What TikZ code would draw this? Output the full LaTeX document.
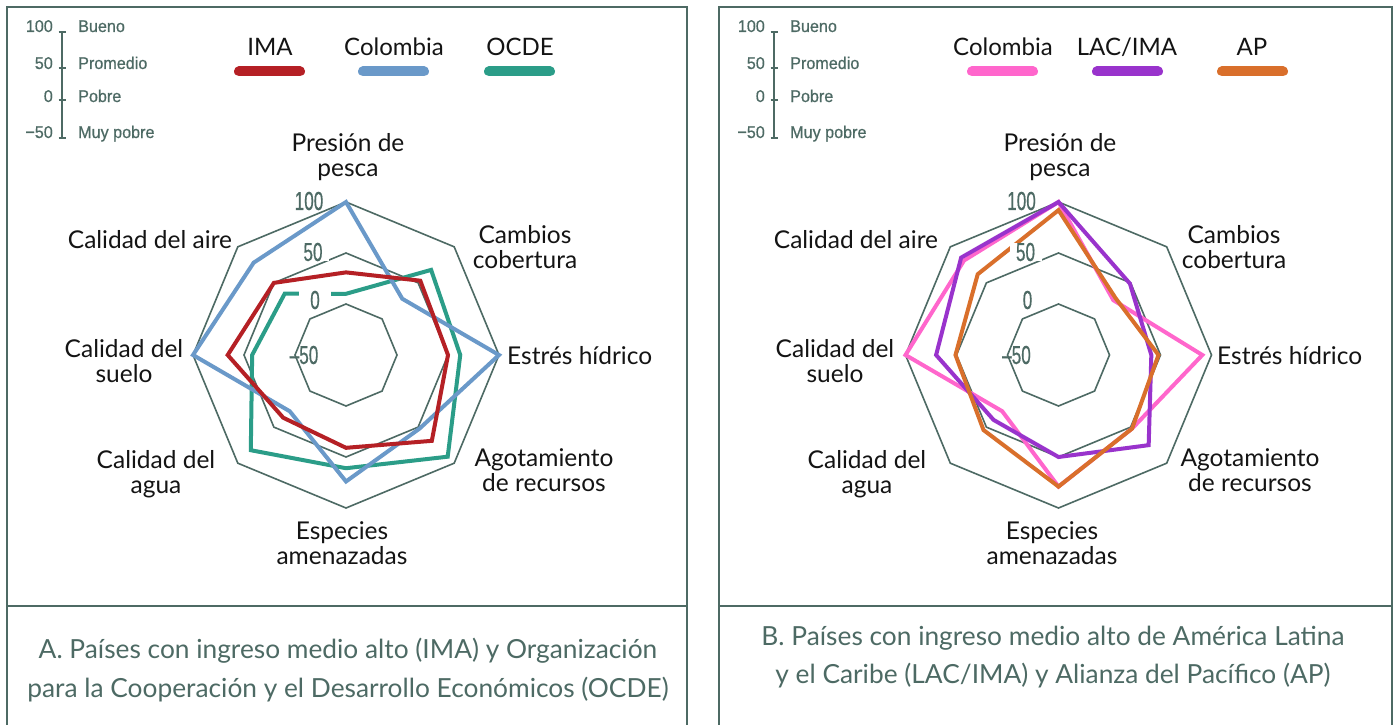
\documentclass[tikz,border=0pt]{standalone}
\usepackage{fontspec}
\setmainfont{Lato}
\newfontfamily\scalef[FakeBold=0.6,FakeStretch=0.95]{Liberation Sans}
\newfontfamily\ringf[FakeStretch=0.66,FakeBold=0.4]{Liberation Sans}
\definecolor{gg}{HTML}{4D6A64}
\definecolor{cred}{HTML}{B52025}
\definecolor{cblue}{HTML}{6A99C9}
\definecolor{cteal}{HTML}{2B9D88}
\definecolor{cpink}{HTML}{FF66CC}
\definecolor{cpurple}{HTML}{9933CC}
\definecolor{corange}{HTML}{D96F2B}
\tikzset{
  frame/.style={draw=gg, line width=2.6pt},
  grid/.style={draw=gg, line width=1.6pt, line join=miter},
  dataline/.style={line width=4pt, line join=miter},
  legbar/.style={line width=10pt, line cap=round},
  legtxt/.style={font=\fontsize{24}{26}\selectfont, text=black!92, inner sep=0pt},
  axlbl/.style={font=\fontsize{24.5}{24.5}\selectfont, align=center, text=black!92, inner sep=0pt},
  scalenum/.style={font=\scalef\fontsize{17}{19}\selectfont, text=gg, inner sep=0pt, anchor=base east},
  scaletxt/.style={font=\scalef\fontsize{17}{19}\selectfont, text=gg, inner sep=0pt, anchor=base west},
  ringlbl/.style={font=\ringf\fontsize{26}{27}\selectfont, text=gg, fill=white, inner xsep=2pt, inner ysep=0pt, minimum width=32pt},
  caption/.style={font=\fontsize{26.3}{38.5}\selectfont, text=gg, align=center, inner sep=0pt},
}
\newcommand\radar[9]{%
  \draw[dataline,#1] (90:{(#2+50)*1.02pt}) -- (45:{(#3+50)*1.02pt}) -- (0:{(#4+50)*1.02pt})
    -- (-45:{(#5+50)*1.02pt}) -- (-90:{(#6+50)*1.02pt}) -- (-135:{(#7+50)*1.02pt})
    -- (180:{(#8+50)*1.02pt}) -- (135:{(#9+50)*1.02pt}) -- cycle;}
\newcommand\gridrings{%
  \foreach \r in {51,102,153}
    \draw[grid] (0:\r pt) \foreach \a in {45,90,...,315}{ -- (\a:\r pt)} -- cycle;}
\newcommand\ringlabels[1]{%
  \node[ringlbl] (#1r100) at (-37,-154) {100};
  \node[ringlbl] (#1r50) at (-33,-103) {50};
  \node[ringlbl] (#1r0) at (-31,-55) {0};
  \node[ringlbl, fill=none] (#1rm50) at (-42,0) {–50};}
\newcommand\scaleleg[2]{%
  \begin{scope}[xshift=#2]
    \draw[grid] (62,32) -- (62,138);
    \foreach \yy in {32,68,100,138} \draw[grid] (58.5,\yy) -- (66,\yy);
    \node[scalenum] (#1n1) at (53,32) {100};
    \node[scalenum] (#1n2) at (53,69) {50};
    \node[scalenum] (#1n3) at (53,102) {0};
    \node[scalenum] (#1n4) at (53,138) {−50};
    \node[scaletxt] (#1t1) at (78,32) {Bueno};
    \node[scaletxt] (#1t2) at (78,69) {Promedio};
    \node[scaletxt] (#1t3) at (78,102) {Pobre};
    \node[scaletxt] (#1t4) at (78,138) {Muy pobre};
  \end{scope}}
\begin{document}
\begin{tikzpicture}[x=1pt,y=-1pt]
\fill[white] (0,0) rectangle (1400,725);
\useasboundingbox (0,0) rectangle (1400,725);
% frames
\draw[frame] (7,726) -- (7,7) -- (687,7) -- (687,726);
\draw[frame] (7,606) -- (687,606);
\draw[frame] (719,726) -- (719,7) -- (1392,7) -- (1392,726);
\draw[frame] (719,606) -- (1392,606);
% scale legends
\scaleleg{sA}{0pt}
\scaleleg{sB}{712pt}
% legend A
\node[legtxt] (legA1) at (270,47) {IMA};
\node[legtxt] (legA2) at (394,47) {Colombia};
\node[legtxt] (legA3) at (520,47) {OCDE};
\draw[legbar, cred] (239,71.5) -- (300,71.5);
\draw[legbar, cblue] (363,71.5) -- (424,71.5);
\draw[legbar, cteal] (489,71.5) -- (550,71.5);
% legend B
\node[legtxt] (legB1) at (1003,47) {Colombia};
\node[legtxt] (legB2) at (1127,47) {LAC/IMA};
\node[legtxt] (legB3) at (1252,47) {AP};
\draw[legbar, cpink] (972,71.5) -- (1033,71.5);
\draw[legbar, cpurple] (1097,71.5) -- (1158,71.5);
\draw[legbar, corange] (1222,71.5) -- (1283,71.5);
% panel A chart
\begin{scope}[shift={(346,355)}]
  \gridrings
  \radar{cteal}{10}{68}{62}{91}{61}{82}{42}{35}
  \radar{cblue}{100}{28}{100}{52}{74}{28}{100}{78}
  \radar{cred}{31}{53}{50}{69}{41}{37}{66}{50}
  \ringlabels{A}
\end{scope}
% panel B chart
\begin{scope}[shift={(1058.5,355)}]
  \gridrings
  \radar{cpink}{100}{26}{91}{52}{79}{28}{100}{81}
  \radar{cpurple}{100}{49}{41}{75}{50}{40}{70}{85}
  \radar{corange}{92}{29}{48}{52}{79}{54}{51}{62}
  \ringlabels{B}
\end{scope}
% axis labels A
\node[axlbl] (lA0) at (348,157) {Presión de\\pesca};
\node[axlbl] (lA1) at (525,247) {Cambios\\cobertura};
\node[axlbl, anchor=west] (lA2) at (507,356) {Estrés hídrico};
\node[axlbl] (lA3) at (544,470) {Agotamiento\\de recursos};
\node[axlbl] (lA4) at (342,543) {Especies\\amenazadas};
\node[axlbl] (lA5) at (156,474) {Calidad del\\agua};
\node[axlbl] (lA6) at (124,361) {Calidad del\\suelo};
\node[axlbl] (lA7) at (150,240) {Calidad del aire};
% axis labels B
\node[axlbl] (lB0) at (1060,157) {Presión de\\pesca};
\node[axlbl] (lB1) at (1234,247) {Cambios\\cobertura};
\node[axlbl, anchor=west] (lB2) at (1217,356) {Estrés hídrico};
\node[axlbl] (lB3) at (1250,470) {Agotamiento\\de recursos};
\node[axlbl] (lB4) at (1052,543) {Especies\\amenazadas};
\node[axlbl] (lB5) at (867,474) {Calidad del\\agua};
\node[axlbl] (lB6) at (835,361) {Calidad del\\suelo};
\node[axlbl] (lB7) at (856,240) {Calidad del aire};
% captions
\node[caption] (capA) at (348,670) {A. Países con ingreso medio alto (IMA) y Organización\\para la Cooperación y el Desarrollo Económicos (OCDE)};
\node[caption] (capB) at (1053,657) {B. Países con ingreso medio alto de América Latina\\y el Caribe (LAC/IMA) y Alianza del Pacífico (AP)};
\end{tikzpicture}
\end{document}
